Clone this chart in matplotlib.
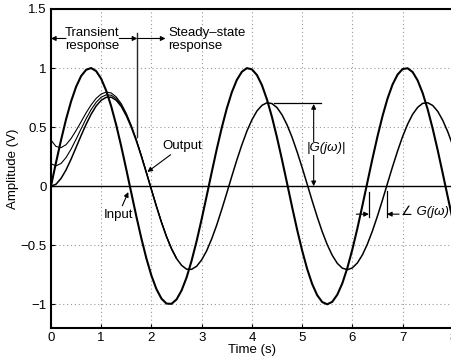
import numpy as np
import matplotlib
matplotlib.use('Agg')
import matplotlib.pyplot as plt

plt.rcParams['font.family'] = ['Liberation Sans', 'DejaVu Sans']
plt.rcParams['font.size'] = 9.5

# sample times (s), one point every 0.1 s
time = np.round(np.arange(0, 8.01, 0.1), 1)

# input: unit-amplitude sine
input_v = [0.000, 0.199, 0.389, 0.565, 0.717, 0.841, 0.932, 0.985, 1.000, 0.974,
           0.909, 0.808, 0.675, 0.516, 0.335, 0.141, -0.058, -0.256, -0.443, -0.612,
           -0.757, -0.872, -0.952, -0.994, -0.996, -0.959, -0.883, -0.773, -0.631, -0.465,
           -0.279, -0.083, 0.117, 0.312, 0.494, 0.657, 0.794, 0.899, 0.968, 0.999,
           0.989, 0.941, 0.855, 0.734, 0.585, 0.412, 0.223, 0.025, -0.175, -0.367,
           -0.544, -0.700, -0.828, -0.923, -0.981, -1.000, -0.979, -0.919, -0.823, -0.693,
           -0.536, -0.358, -0.165, 0.034, 0.232, 0.420, 0.592, 0.741, 0.860, 0.944,
           0.991, 0.998, 0.966, 0.895, 0.788, 0.650, 0.486, 0.303, 0.107, -0.092,
           -0.288]

# output starting from rest
output_v = [0.000, 0.016, 0.065, 0.137, 0.228, 0.328, 0.428, 0.524, 0.609, 0.679,
            0.727, 0.752, 0.753, 0.727, 0.674, 0.596, 0.498, 0.382, 0.251, 0.111,
            -0.032, -0.173, -0.307, -0.428, -0.531, -0.613, -0.670, -0.703, -0.704, -0.678,
            -0.624, -0.547, -0.446, -0.329, -0.197, -0.059, 0.083, 0.221, 0.349, 0.465,
            0.561, 0.636, 0.684, 0.706, 0.699, 0.665, 0.604, 0.519, 0.414, 0.291,
            0.158, 0.018, -0.124, -0.259, -0.385, -0.495, -0.585, -0.653, -0.694, -0.707,
            -0.692, -0.650, -0.582, -0.490, -0.379, -0.253, -0.117, 0.024, 0.164, 0.297,
            0.419, 0.524, 0.608, 0.667, 0.701, 0.706, 0.683, 0.633, 0.557, 0.460,
            0.344]

# outputs from other initial conditions (first 2.5 s, then they merge)
trans_time = time[:26]
trans_a = [0.190, 0.172, 0.192, 0.242, 0.313, 0.397, 0.485, 0.571, 0.648, 0.710,
           0.753, 0.773, 0.770, 0.741, 0.686, 0.606, 0.506, 0.388, 0.256, 0.115,
           -0.028, -0.171, -0.305, -0.426, -0.529, -0.612]
trans_b = [0.390, 0.336, 0.326, 0.351, 0.403, 0.471, 0.545, 0.621, 0.688, 0.743,
           0.780, 0.796, 0.789, 0.755, 0.698, 0.616, 0.514, 0.395, 0.261, 0.120,
           -0.025, -0.168, -0.302, -0.424, -0.528, -0.611]

x_ticks = [0, 1, 2, 3, 4, 5, 6, 7, 8]
y_ticks = [-1, -0.5, 0, 0.5, 1, 1.5]
y_ticklabels = ['\u22121', '\u22120.5', '0', '0.5', '1', '1.5']

fig = plt.figure(figsize=(4.51, 3.58), dpi=100)
ax = fig.add_axes([0.113, 0.084, 0.891, 0.891])

ax.set_xlim(0, 8)
ax.set_ylim(-1.2, 1.5)
ax.set_xticks(x_ticks)
ax.set_yticks(y_ticks)
ax.set_yticklabels(y_ticklabels)
ax.tick_params(direction='in', length=3, width=0.8, pad=3, labelsize=9.5)
for sp in ax.spines.values():
    sp.set_linewidth(1.5)
ax.grid(True, linestyle=(0, (1, 2.5)), color='0.6', linewidth=0.8)
ax.axhline(0, color='black', linewidth=1.0)

ax.plot(trans_time, trans_a, color='black', linewidth=0.8)
ax.plot(trans_time, trans_b, color='black', linewidth=0.8)
ax.plot(time, output_v, color='black', linewidth=1.1)
ax.plot(time, input_v, color='black', linewidth=1.5)

ax.set_xlabel('Time (s)', labelpad=0)
ax.set_ylabel('Amplitude (V)', labelpad=1)

arrow = dict(arrowstyle='-|>', color='black', lw=0.8, mutation_scale=7,
             shrinkA=0, shrinkB=0)

# transient / steady-state split
ax.plot([1.72, 1.72], [0.42, 1.30], color='0.15', linewidth=1.0)
ax.annotate('', xy=(0.0, 1.25), xytext=(0.3, 1.25), arrowprops=arrow)
ax.annotate('', xy=(1.72, 1.25), xytext=(1.36, 1.25), arrowprops=arrow)
ax.annotate('', xy=(2.28, 1.25), xytext=(1.74, 1.25), arrowprops=arrow)
ax.text(0.28, 1.24, 'Transient\nresponse', ha='left', va='center',
        linespacing=1.05)
ax.text(2.33, 1.24, 'Steady\u2013state\nresponse', ha='left', va='center',
        linespacing=1.05)

# labels for input / output
ax.annotate('Output', xy=(1.92, 0.12), xytext=(2.22, 0.34),
            ha='left', va='center', arrowprops=arrow)
ax.annotate('Input', xy=(1.54, -0.05), xytext=(1.05, -0.24),
            ha='left', va='center', arrowprops=arrow)

# magnitude marker
ax.plot([4.45, 5.38], [0.70, 0.70], color='black', linewidth=0.9)
ax.annotate('', xy=(5.23, 0.695), xytext=(5.23, 0.35), arrowprops=arrow)
ax.annotate('', xy=(5.23, 0.0), xytext=(5.23, 0.3), arrowprops=arrow)
ax.text(5.08, 0.32, '|G(j\u03c9)|', ha='left', va='center', style='italic',
        bbox=dict(facecolor='white', edgecolor='none', pad=0.5))

# phase marker
ax.plot([6.33, 6.33], [-0.05, -0.26], color='black', linewidth=0.9)
ax.plot([6.69, 6.69], [-0.04, -0.26], color='black', linewidth=0.9)
ax.annotate('', xy=(6.33, -0.237), xytext=(6.08, -0.237), arrowprops=arrow)
ax.annotate('', xy=(6.69, -0.237), xytext=(6.93, -0.237), arrowprops=arrow)
ax.text(6.97, -0.22, '\u2220 G(j\u03c9)', ha='left', va='center', style='italic')

fig.savefig('out.png', dpi=100)
